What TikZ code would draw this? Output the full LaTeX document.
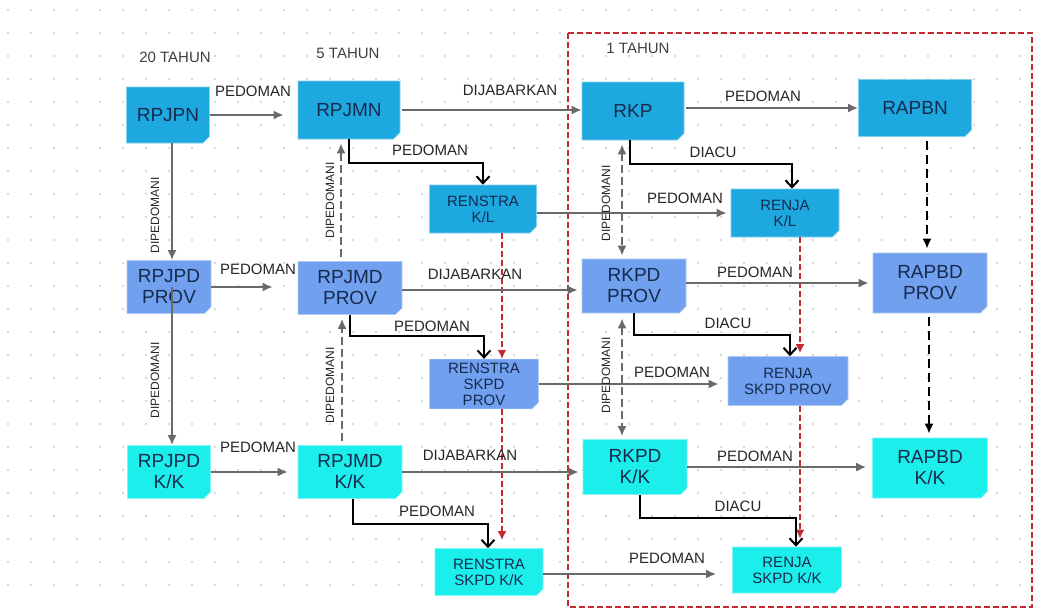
\documentclass[tikz,border=0pt]{standalone}
\usepackage{fontspec}
\setmainfont{Liberation Sans}
\usetikzlibrary{arrows.meta,shapes.misc}
\definecolor{rowA}{RGB}{30,168,224}
\definecolor{rowB}{RGB}{112,160,238}
\definecolor{rowC}{RGB}{28,238,236}
\definecolor{boxtext}{RGB}{22,42,78}
\definecolor{linegray}{RGB}{105,105,105}
\definecolor{framered}{RGB}{196,42,52}

\begin{document}
\begin{tikzpicture}[x=1pt,y=-1pt,
	box/.style={chamfered rectangle, chamfered rectangle corners=south east, chamfered rectangle xsep=3pt,
		draw=#1!55!white, line width=0.6pt, fill=#1, text=boxtext, align=center, inner sep=0pt,
		font=\fontsize{19}{21}\selectfont},
	smallbox/.style={box=#1, font=\fontsize{15}{16}\selectfont},
	lbl/.style={text=black!85, inner sep=0pt, font=\fontsize{15}{17}\selectfont},
	vlbl/.style={text=black!85, inner sep=2pt, rotate=90, font=\fontsize{12}{14}\selectfont},
	grayarr/.style={draw=linegray, line width=2pt, -{Latex[length=10pt,width=9pt]}},
	dasharr/.style={grayarr, dash pattern=on 8pt off 4pt},
	blackarr/.style={draw=black, line width=2pt, -{Straight Barb[length=7pt,width=13pt]}},
	blackdash/.style={blackarr, -{Latex[length=10pt,width=9pt]}, dash pattern=on 9pt off 5pt},
	redarr/.style={draw=framered, line width=2pt, dash pattern=on 6pt off 3pt, -{Latex[length=9pt,width=9pt]}}]

	\useasboundingbox[fill=white] (0,0) rectangle (1045,611);
	% dotted paper
	\foreach \x in {8,31,...,1040}
		\foreach \y in {10,33,...,605}
			\fill[black!20] (\x,\y) circle (1.2);

	% one-year frame
	\draw[framered, line width=2pt, dash pattern=on 6pt off 3pt] (568,33) rectangle (1032,607);

	\node[lbl, text=black!75] (thn20) at (175,57) {20 TAHUN};
	\node[lbl, text=black!75] (thn5) at (348,53) {5 TAHUN};
	\node[lbl, text=black!75] (thn1) at (638,48) {1 TAHUN};

	% national
	\node[box=rowA, minimum width=83, minimum height=56] (rpjpn) at (168,115) {RPJPN};
	\node[box=rowA, minimum width=102, minimum height=58] (rpjmn) at (349,110) {RPJMN};
	\node[box=rowA, minimum width=102, minimum height=58] (rkp) at (633,111) {RKP};
	\node[box=rowA, minimum width=113, minimum height=57] (rapbn) at (915,108) {RAPBN};
	\node[smallbox=rowA, minimum width=107, minimum height=48] (renstrakl) at (483,209) {RENSTRA\\K/L};
	\node[smallbox=rowA, minimum width=108, minimum height=48] (renjakl) at (785,213) {RENJA\\K/L};

	% province
	\node[box=rowB, minimum width=84, minimum height=53] (rpjpdprov) at (169,287) {RPJPD\\PROV};
	\node[box=rowB, minimum width=104, minimum height=53] (rpjmdprov) at (350,288) {RPJMD\\PROV};
	\node[box=rowB, minimum width=104, minimum height=54] (rkpdprov) at (634,286) {RKPD\\PROV};
	\node[box=rowB, minimum width=114, minimum height=60] (rapbdprov) at (930,283) {RAPBD\\PROV};
	\node[smallbox=rowB, minimum width=109, minimum height=49] (renstraprov) at (484,384) {RENSTRA\\SKPD\\PROV};
	\node[smallbox=rowB, minimum width=120, minimum height=49] (renjaprov) at (788,381) {RENJA\\SKPD PROV};

	% kabupaten / kota
	\node[box=rowC, minimum width=83, minimum height=53] (rpjpdkk) at (169,472) {RPJPD\\K/K};
	\node[box=rowC, minimum width=104, minimum height=53] (rpjmdkk) at (350,472) {RPJMD\\K/K};
	\node[box=rowC, minimum width=104, minimum height=55] (rkpdkk) at (635,467) {RKPD\\K/K};
	\node[box=rowC, minimum width=115, minimum height=60] (rapbdkk) at (930,468) {RAPBD\\K/K};
	\node[smallbox=rowC, minimum width=108, minimum height=47] (renstrakk) at (489,572) {RENSTRA\\SKPD K/K};
	\node[smallbox=rowC, minimum width=109, minimum height=46] (renjakk) at (787,570) {RENJA\\SKPD K/K};

	% red links renstra / renja
	\draw[redarr] ([xshift=19]renstrakl.south) -- ([xshift=19]renstrakl.south |- renstraprov.north);
	\draw[redarr, shorten >=8pt] ([xshift=18]renstraprov.south) -- ([xshift=18]renstraprov.south |- renstrakk.north);
	\draw[redarr, shorten >=3pt] ([xshift=15]renjakl.south) -- ([xshift=15]renjakl.south |- renjaprov.north);
	\draw[redarr, shorten >=8pt] ([xshift=12]renjaprov.south) -- ([xshift=12]renjaprov.south |- renjakk.north);

	% horizontal links
	\draw[grayarr, shorten >=14pt] (rpjpn.east) -- (rpjpn.east -| rpjmn.west);
	\draw[grayarr, shorten <=2pt] (rpjmn.east) -- (rpjmn.east -| rkp.west);
	\draw[grayarr, shorten <=2pt] (rapbn.west -| rkp.east) -- (rapbn.west);
	\draw[grayarr, shorten >=4pt] (renjakl.west -| renstrakl.east) -- (renjakl.west);
	\draw[grayarr, shorten >=25pt] (rpjpdprov.east) -- (rpjpdprov.east -| rpjmdprov.west);
	\draw[grayarr, shorten >=4pt] ([yshift=-2]rpjmdprov.east) -- ([yshift=-2]rpjmdprov.east -| rkpdprov.west);
	\draw[grayarr, shorten >=4pt] (rapbdprov.west -| rkpdprov.east) -- (rapbdprov.west);
	\draw[grayarr, shorten >=9pt] (renstraprov.east) -- (renstraprov.east -| renjaprov.west);
	\draw[grayarr, shorten >=10pt] (rpjpdkk.east) -- (rpjpdkk.east -| rpjmdkk.west);
	\draw[grayarr, shorten >=4pt] (rpjmdkk.east) -- (rpjmdkk.east -| rkpdkk.west);
	\draw[grayarr, shorten >=6pt] (rkpdkk.east) -- (rkpdkk.east -| rapbdkk.west);
	\draw[grayarr, shorten >=16pt] ([yshift=-2]renstrakk.east) -- ([yshift=-2]renstrakk.east -| renjakk.west);

	% elbow links
	\draw[blackarr] (rpjmn.south) -- ++(0,24) -| (renstrakl.north);
	\draw[blackarr] ([xshift=-3]rkp.south) -- ++(0,24) -| ([xshift=7]renjakl.north);
	\draw[blackarr] (rpjmdprov.south) -- ++(0,21) -| (renstraprov.north);
	\draw[blackarr] (rkpdprov.south) -- ++(0,22) -| ([xshift=2]renjaprov.north);
	\draw[blackarr] ([xshift=3]rpjmdkk.south) -- ++(0,25) -| ([xshift=-1]renstrakk.north);
	\draw[blackarr] ([xshift=5]rkpdkk.south) -- ++(0,23) -| ([xshift=9]renjakk.north);

	% vertical links
	\draw[grayarr] ([xshift=4]rpjpn.south) -- ([xshift=4]rpjpn.south |- rpjpdprov.north);
	\draw[grayarr] ([xshift=3]rpjpdprov.center) -- ([xshift=3]rpjpdprov.center |- rpjpdkk.north);
	\draw[dasharr, shorten <=4pt, shorten >=4pt] ([xshift=-9]rpjmdprov.north) -- ([xshift=-9]rpjmdprov.north |- rpjmn.south);
	\draw[dasharr, shorten <=4pt, shorten >=4pt] ([xshift=-8]rpjmdkk.north) -- ([xshift=-8]rpjmdkk.north |- rpjmdprov.south);
	\draw[dasharr, {Latex[length=10pt,width=9pt]}-{Latex[length=10pt,width=9pt]}, shorten <=4pt, shorten >=3pt]
		([xshift=-12]rkpdprov.north |- rkp.south) -- ([xshift=-12]rkpdprov.north);
	\draw[dasharr, {Latex[length=10pt,width=9pt]}-{Latex[length=10pt,width=9pt]}, shorten <=5pt, shorten >=3pt]
		([xshift=-13]rkpdkk.north |- rkpdprov.south) -- ([xshift=-13]rkpdkk.north);
	\draw[blackdash, shorten <=4pt, shorten >=4pt] ([xshift=-3]rapbdprov.north |- rapbn.south) -- ([xshift=-3]rapbdprov.north);
	\draw[blackdash, shorten <=4pt, shorten >=4pt] ([xshift=-1]rapbdprov.south) -- ([xshift=-1]rapbdkk.north);

	% labels
	\node[lbl] (pedA) at (253,91) {PEDOMAN};
	\node[lbl] (jabA) at (510,90) {DIJABARKAN};
	\node[lbl] (pedB) at (763,96) {PEDOMAN};
	\node[lbl] (pedC) at (430,150) {PEDOMAN};
	\node[lbl] (acuA) at (713,152) {DIACU};
	\node[lbl] (pedD) at (685,198) {PEDOMAN};
	\node[lbl] (pedE) at (258,269) {PEDOMAN};
	\node[lbl] (jabB) at (475,274) {DIJABARKAN};
	\node[lbl] (pedF) at (755,272) {PEDOMAN};
	\node[lbl] (pedG) at (432,326) {PEDOMAN};
	\node[lbl] (acuB) at (728,323) {DIACU};
	\node[lbl] (pedH) at (672,372) {PEDOMAN};
	\node[lbl] (pedI) at (258,447) {PEDOMAN};
	\node[lbl] (jabC) at (470,455) {DIJABARKAN};
	\node[lbl] (pedJ) at (755,456) {PEDOMAN};
	\node[lbl] (pedK) at (437,511) {PEDOMAN};
	\node[lbl] (acuC) at (738,506) {DIACU};
	\node[lbl] (pedL) at (667,558) {PEDOMAN};
	\node[vlbl] (dipA) at (155,215) {DIPEDOMANI};
	\node[vlbl] (dipB) at (330,200) {DIPEDOMANI};
	\node[vlbl] (dipC) at (606,203) {DIPEDOMANI};
	\node[vlbl] (dipD) at (155,380) {DIPEDOMANI};
	\node[vlbl] (dipE) at (330,385) {DIPEDOMANI};
	\node[vlbl] (dipF) at (606,375) {DIPEDOMANI};
\end{tikzpicture}
\end{document}
